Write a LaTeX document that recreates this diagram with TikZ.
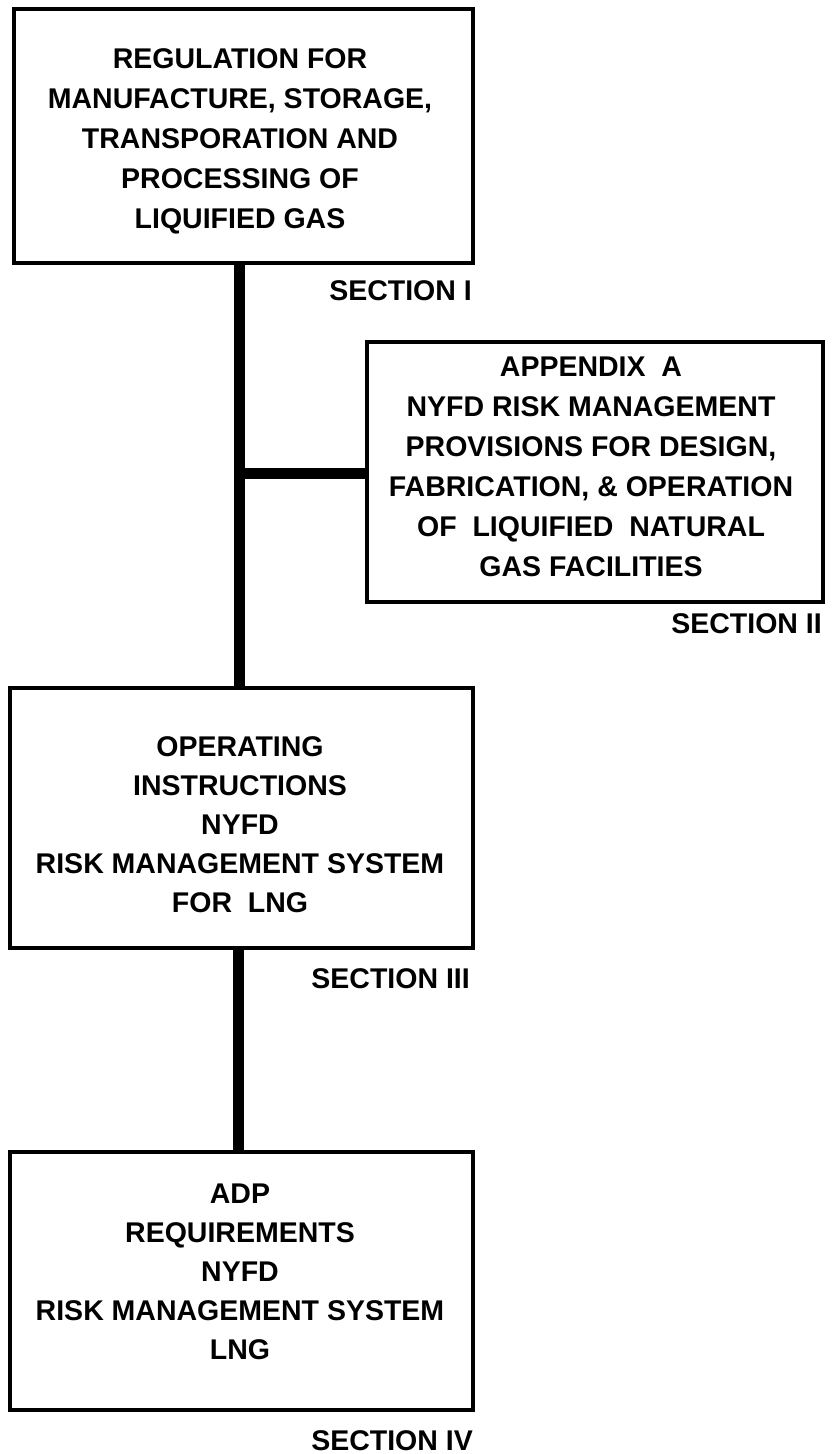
\documentclass[tikz,border=0pt]{standalone}
\usepackage{fontspec}
\setmainfont{Liberation Sans}
\begin{document}
\begin{tikzpicture}[x=1pt,y=-1pt,
  boxstyle/.style={draw=black, line width=4pt, rectangle, inner sep=0pt},
  boxtext/.style={inner sep=0pt, align=center, font=\fontsize{28.5}{40}\selectfont\bfseries},
  boxtextb/.style={inner sep=0pt, align=center, font=\fontsize{28.5}{39}\selectfont\bfseries},
  seclabel/.style={inner sep=0pt, anchor=base east, font=\fontsize{28.5}{34}\selectfont\bfseries},
  link/.style={line width=11pt, black}]
\useasboundingbox (0,0) rectangle (831,1454);
% boxes
\node[boxstyle, minimum width=459pt, minimum height=254pt] (b1) at (243.5,136) {};
\node[boxstyle, minimum width=456pt, minimum height=260pt] (b2) at (595,472) {};
\node[boxstyle, minimum width=463pt, minimum height=260pt] (b3) at (241.5,818) {};
\node[boxstyle, minimum width=463pt, minimum height=258pt] (b4) at (241.5,1281) {};
% texts
\node[boxtext] (t1) at (240,141) {REGULATION FOR\\MANUFACTURE, STORAGE,\\TRANSPORATION AND\\PROCESSING OF\\LIQUIFIED GAS};
\node[boxtext] (t2) at (591,467) {APPENDIX\ \ A\\NYFD RISK MANAGEMENT\\PROVISIONS FOR DESIGN,\\FABRICATION, \& OPERATION\\OF\ \ LIQUIFIED\ \ NATURAL\\GAS FACILITIES};
\node[boxtextb] (t3) at (240,825) {OPERATING\\INSTRUCTIONS\\NYFD\\RISK MANAGEMENT SYSTEM\\FOR\ \ LNG};
\node[boxtextb] (t4) at (240,1271.5) {ADP\\REQUIREMENTS\\NYFD\\RISK MANAGEMENT SYSTEM\\LNG};
% section labels
\node[seclabel] (s1) at (472,300) {SECTION I};
\node[seclabel] (s2) at (822,633) {SECTION II};
\node[seclabel] (s3) at (470,988) {SECTION III};
\node[seclabel] (s4) at (473,1450) {SECTION IV};
% connectors
\coordinate (j) at (239,473);
\coordinate (k) at (238,1050);
\draw[link] (b1.south -| j) -- (b3.north -| j);
\draw[link] (j) -- (b2.west |- j);
\draw[link] (b3.south -| k) -- (b4.north -| k);
\end{tikzpicture}
\end{document}
